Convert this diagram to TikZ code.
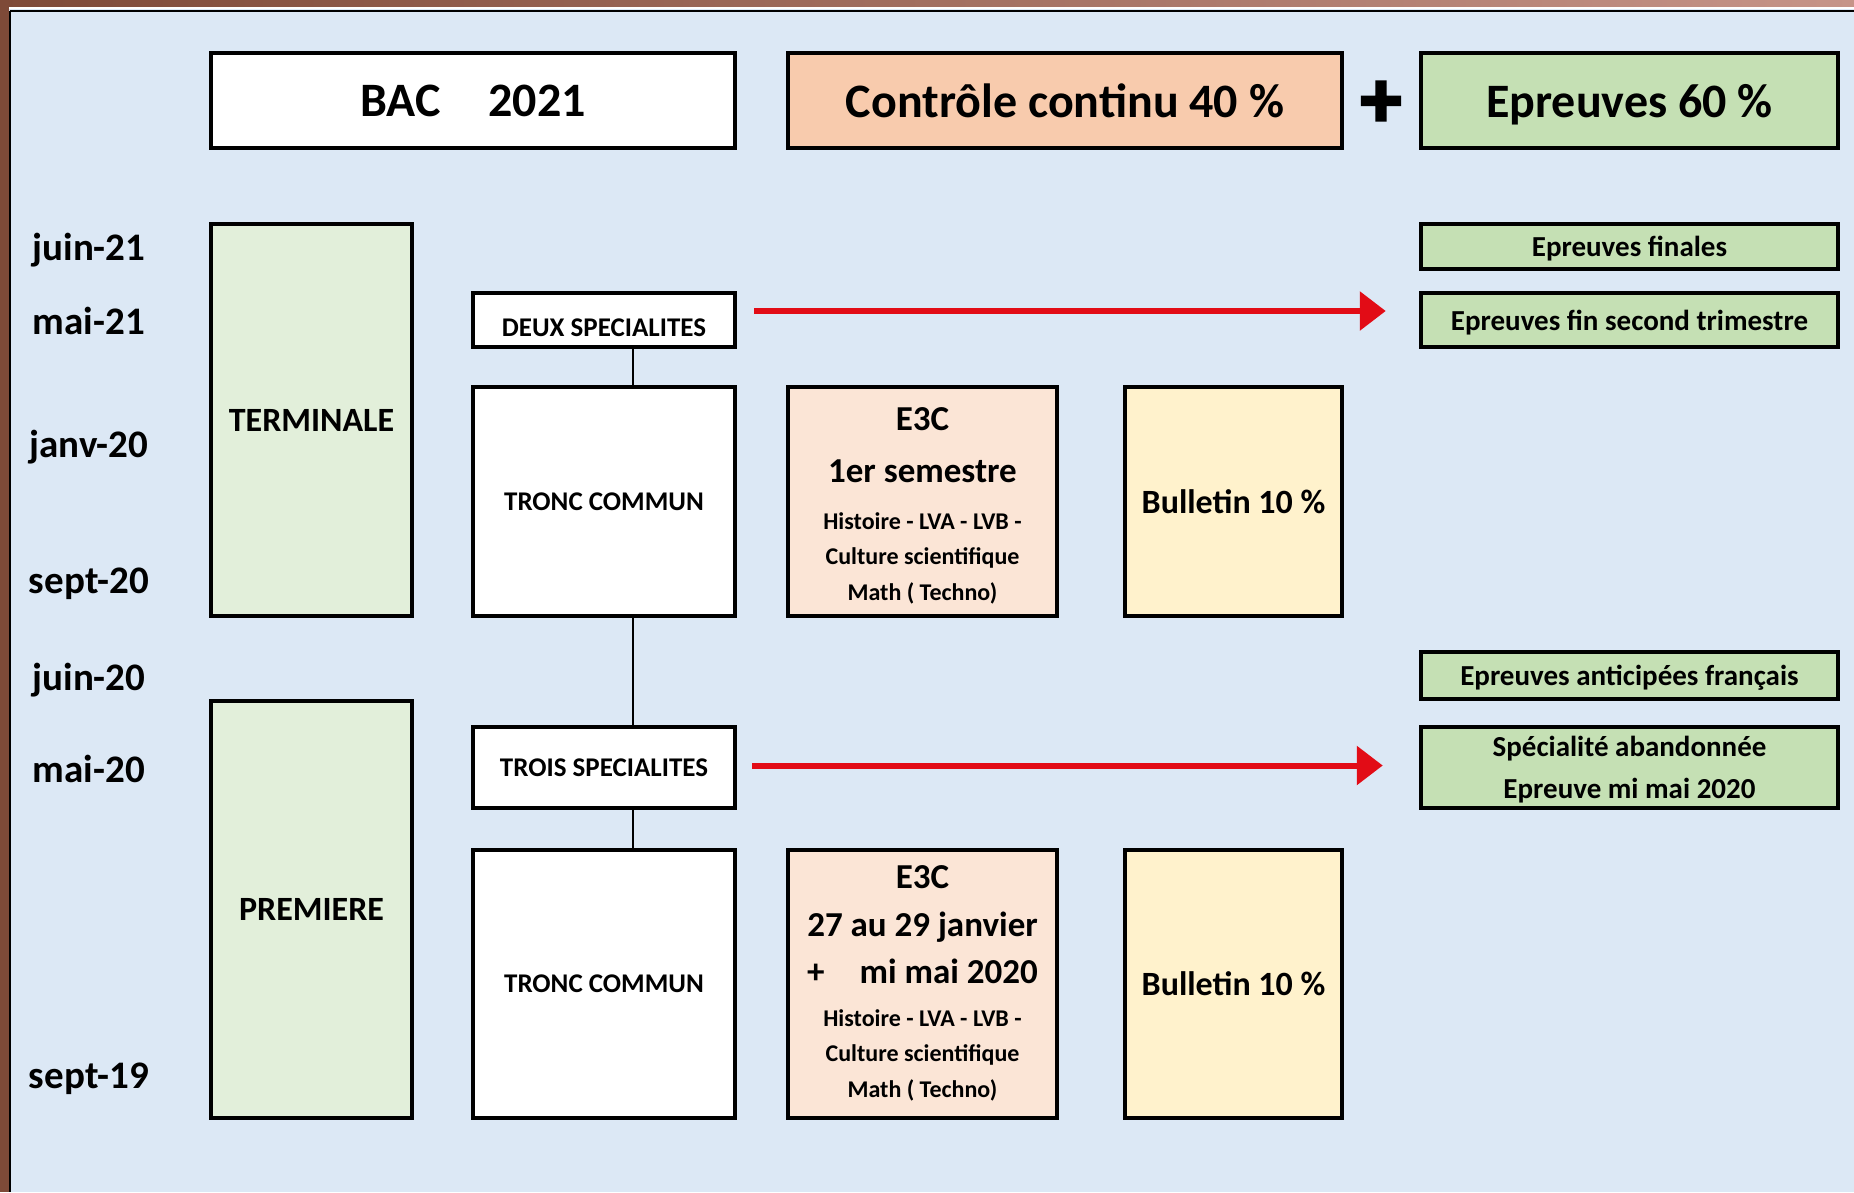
\documentclass[tikz,border=0pt]{standalone}
\usepackage{fontspec}
\setmainfont{Carlito}
\usetikzlibrary{arrows.meta}
\definecolor{bgblue}{RGB}{220,232,245}
\definecolor{brownframe}{RGB}{126,74,56}
\definecolor{brownlight}{RGB}{198,148,136}
\definecolor{greenpale}{RGB}{226,239,218}
\definecolor{greenbox}{RGB}{197,224,180}
\definecolor{peach}{RGB}{248,203,173}
\definecolor{peachpale}{RGB}{251,229,214}
\definecolor{cream}{RGB}{255,242,204}
\definecolor{arrowred}{RGB}{226,12,22}
\begin{document}
\begin{tikzpicture}[x=1pt,y=-1pt,
  box/.style={draw=black, line width=4.5pt, inner sep=0pt, align=center},
  head/.style={font=\bfseries\fontsize{48}{58}\selectfont, text depth=0pt},
  big/.style={font=\bfseries\fontsize{35}{52}\selectfont, align=center},
  mid/.style={font=\bfseries\fontsize{29}{42}\selectfont, text depth=0pt},
  small/.style={font=\bfseries\fontsize{27}{34}\selectfont},
  tiny/.style={font=\bfseries\fontsize{24}{35.5}\selectfont, align=center},
  datelbl/.style={font=\bfseries\fontsize{39}{47}\selectfont, anchor=base},
  link/.style={draw=black, line width=2pt},
  redarrow/.style={draw=arrowred, line width=6pt, -{Triangle[length=26pt,width=38pt]}}]
\useasboundingbox (0,0) rectangle (1854,1192);
\fill[bgblue] (0,0) rectangle (1854,1192);
\shade[left color=brownframe, right color=brownlight] (0,0) rectangle (1854,7);
\fill[white] (9,7) rectangle (1854,9);
\fill[brownframe] (0,0) rectangle (9,1192);
\draw[line width=2.5pt] (10,11) -- (1854,11);
\draw[line width=2.5pt] (10,11) -- (10,1192);

\node[box, fill=white, head, minimum width=524, minimum height=95] (bac) at (473,100.5) {BAC\quad 2021};
\node[box, fill=peach, head, minimum width=554, minimum height=95] (cc) at (1065,100.5) {Contrôle continu 40 \%};
\node[font=\bfseries\fontsize{80}{80}\selectfont\addfontfeature{FakeBold=4}, inner sep=0pt] (plus) at (1381,104) {+};
\node[box, fill=greenbox, head, minimum width=417, minimum height=95] (ep) at (1629.5,100.5) {Epreuves 60 \%};

\foreach \d/\y [count=\i] in {juin-21/260, mai-21/334, janv-20/457, sept-20/593, juin-20/690, mai-20/782, sept-19/1088}
  \node[datelbl] (date\i) at (89,\y) {\d};

\node[box, fill=greenpale, font=\bfseries\fontsize{34}{40}\selectfont, minimum width=201, minimum height=392] (terminale) at (311.5,420) {TERMINALE};
\node[box, fill=greenpale, font=\bfseries\fontsize{34}{40}\selectfont, minimum width=201, minimum height=417] (premiere) at (311.5,909.5) {PREMIERE};

\node[box, fill=white, small, text height=33pt, text depth=0pt, minimum width=262, minimum height=54] (deux) at (604,320) {DEUX SPECIALITES};
\node[box, fill=white, small, minimum width=262, minimum height=229] (tc1) at (604,501.5) {TRONC COMMUN};
\node[box, fill=white, small, minimum width=262, minimum height=81] (trois) at (604,767.5) {TROIS SPECIALITES};
\node[box, fill=white, small, minimum width=262, minimum height=268] (tc2) at (604,984) {TRONC COMMUN};

\node[box, fill=peachpale, minimum width=269, minimum height=229] (e3cA) at (922.5,501.5) {};
\node[big] (e3cAhead) at (922.5,445) {E3C\\1er semestre};
\node[tiny] (e3cAbody) at (922.5,558) {Histoire - LVA - LVB -\\Culture scientifique\\Math ( Techno)};
\node[box, fill=cream, font=\bfseries\fontsize{34}{40}\selectfont, minimum width=217, minimum height=229] (bulA) at (1233.5,501.5) {Bulletin 10 \%};

\node[box, fill=peachpale, minimum width=269, minimum height=268] (e3cB) at (922.5,984) {};
\node[big, font=\bfseries\fontsize{35}{47.5}\selectfont] (e3cBhead) at (922.5,925) {E3C\\27 au 29 janvier\\+\quad mi mai 2020};
\node[tiny] (e3cBbody) at (922.5,1055) {Histoire - LVA - LVB -\\Culture scientifique\\Math ( Techno)};
\node[box, fill=cream, font=\bfseries\fontsize{34}{40}\selectfont, minimum width=217, minimum height=268] (bulB) at (1233.5,984) {Bulletin 10 \%};

\node[box, fill=greenbox, mid, minimum width=417, minimum height=45] (finales) at (1629.5,246.5) {Epreuves finales};
\node[box, fill=greenbox, mid, minimum width=417, minimum height=54] (second) at (1629.5,320) {Epreuves fin second trimestre};
\node[box, fill=greenbox, mid, minimum width=417, minimum height=47] (anticip) at (1629.5,675.5) {Epreuves anticipées français};
\node[box, fill=greenbox, mid, minimum width=417, minimum height=81] (abandon) at (1629.5,767.5) {Spécialité abandonnée\\Epreuve mi mai 2020};

\coordinate (spine) at (633,0);
\draw[link] (deux.south -| spine) -- (tc1.north -| spine);
\draw[link] (tc1.south -| spine) -- (trois.north -| spine);
\draw[link] (trois.south -| spine) -- (tc2.north -| spine);

\draw[redarrow] ([shift={(17,-9)}]deux.east) -- ([shift={(-33,-9)}]second.west);
\draw[redarrow] ([shift={(15,-2)}]trois.east) -- ([shift={(-36,-2)}]abandon.west);
\end{tikzpicture}
\end{document}
